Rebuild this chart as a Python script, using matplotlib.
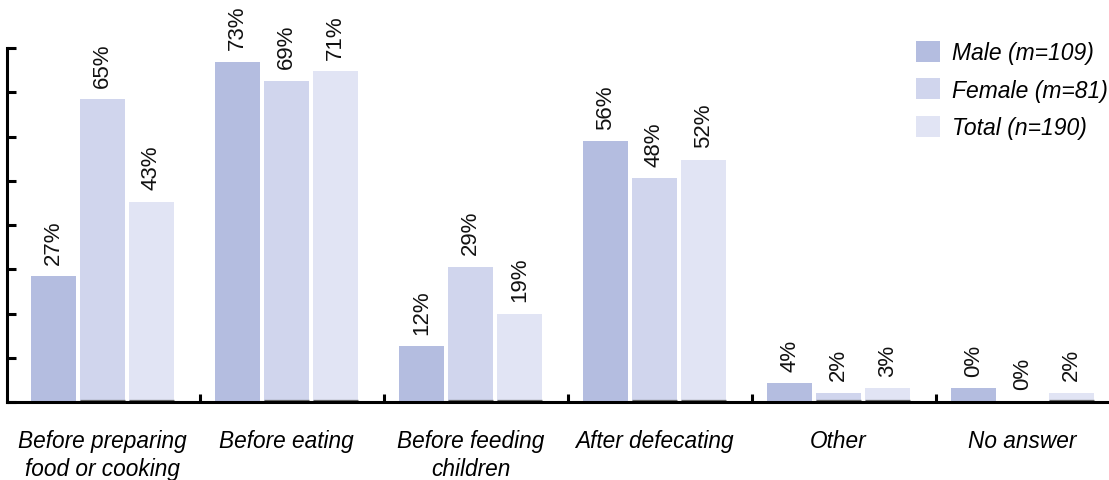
import matplotlib
matplotlib.use("Agg")
import matplotlib.pyplot as plt
from matplotlib.patches import Patch
import numpy as np

plt.rcParams['font.family'] = ['Liberation Sans', 'DejaVu Sans']

categories = ["Before preparing\nfood or cooking", "Before eating", "Before feeding\nchildren",
              "After defecating", "Other", "No answer"]
series_names = ["Male (m=109)", "Female (m=81)", "Total (n=190)"]
male = [27, 73, 12, 56, 4, 3]
female = [65, 69, 29, 48, 2, 0]
total = [43, 71, 19, 52, 3, 2]
male_labels = ["27%", "73%", "12%", "56%", "4%", "0%"]
female_labels = ["65%", "69%", "29%", "48%", "2%", "0%"]
total_labels = ["43%", "71%", "19%", "52%", "3%", "2%"]

colors = ["#b4bde0", "#d0d5ed", "#e1e4f4"]

W, H = 1109, 481
fig = plt.figure(figsize=(W / 100, H / 100), dpi=100)
x_left_px, y_bot_px, y_top_px = 7, 403, 49
ax = fig.add_axes([x_left_px / W, (H - y_bot_px) / H, 1 - x_left_px / W, (y_bot_px - y_top_px) / H])

x = np.arange(len(categories))
offsets = [-0.266, 0.0, 0.266]
bw = 0.245
series = [male, female, total]
labels = [male_labels, female_labels, total_labels]
for k, (vals, labs) in enumerate(zip(series, labels)):
    ax.bar(x + offsets[k], vals, width=bw, color=colors[k], linewidth=0, zorder=2)
    for xi, v, lab in zip(x + offsets[k], vals, labs):
        ax.annotate(lab, (xi, v), xytext=(0, 9), textcoords="offset points",
                    rotation=90, ha="center", va="bottom", fontsize=16, color="#111111")
    if k > 0:
        for xi, v in zip(x + offsets[k], vals):
            if v > 0:
                ax.plot([xi - bw / 2, xi + bw / 2], [0.45, 0.45], color="#666666", lw=0.9,
                        zorder=3, solid_capstyle="butt")

ax.set_xlim((x_left_px - 102.5) / 184, (W - 102.5) / 184)
ax.set_ylim(0, 76)

for s in ["top", "right"]:
    ax.spines[s].set_visible(False)
for s in ["left", "bottom"]:
    ax.spines[s].set_linewidth(2.2)
    ax.spines[s].set_color("black")
    ax.spines[s].set_zorder(4)

ax.set_yticks(np.arange(0, 77, 9.5))
ax.set_yticklabels([])
ax.tick_params(axis="y", direction="in", length=6.5, width=2.2)

ax.set_xticks(np.arange(len(categories) - 1) + 0.53)
ax.set_xticklabels([])
ax.tick_params(axis="x", which="major", direction="in", length=6, width=2.2)
ax.set_xticks(x, minor=True)
ax.set_xticklabels(categories, minor=True, fontsize=16.3, style="italic", linespacing=1.28)
ax.tick_params(axis="x", which="minor", length=0, pad=19.5)

handles = [Patch(facecolor=c, edgecolor="none") for c in colors]
leg = ax.legend(handles, series_names, loc="upper left",
                bbox_to_anchor=(911 / W, (H - 37) / H), bbox_transform=fig.transFigure,
                frameon=False, fontsize=16.5, handlelength=1.05, handleheight=1.05,
                handletextpad=0.55, labelspacing=0.62, borderaxespad=0, borderpad=0.2)
for t in leg.get_texts():
    t.set_fontstyle("italic")

fig.savefig("out.png", dpi=100)
